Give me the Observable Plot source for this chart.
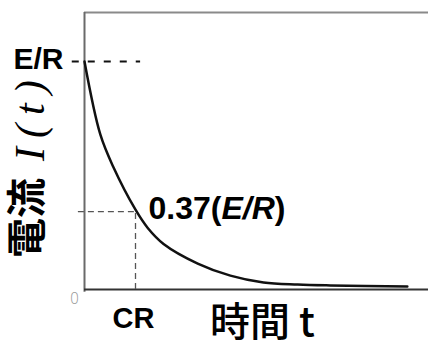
<!DOCTYPE html>
<html>
<head>
<meta charset="utf-8">
<script src="https://cdn.jsdelivr.net/npm/d3@7"></script>
<script src="https://cdn.jsdelivr.net/npm/@observablehq/plot@0.6"></script>
<style>
  html, body { margin: 0; padding: 0; background: #fff; }
  #chart svg { display: block; }
</style>
</head>
<body>
<div id="chart"></div>
<script>
// Values (time in units of CR, current in units of E/R)
const timeValues = [0, 0.31, 0.57, 1.0, 1.24, 1.55, 2.22, 2.86, 3.51, 4.18, 4.82, 6.33];
const currentValues = [1.0, 0.68, 0.535, 0.35, 0.27, 0.20, 0.114, 0.061, 0.031, 0.022, 0.018, 0.013];
const timeDomain = [0, 6.745];
const currentDomain = [0, 1.215];
const timeConstant = [1.0];        // t = CR
const markedLevel = [0.342];       // level of the guide, labelled 0.37(E/R)
const startLevel = [1.0];          // E/R
const erGuideX = [-0.24, 1.1];     // extent of the E/R dashed guide
const levelGuideX = [-0.12];       // left end of 0.37 guide
const labelER = "E/R";
const labelCR = "CR";
const labelZero = "0";
const xLabelText = "時間 t";
const yLabelCJK = "電流";
const yLabelMath = "I(t)";

const curve = timeValues.map((t, i) => ({t, i: currentValues[i]}));
const sans = "Liberation Sans, Arial, Helvetica, sans-serif";
const cjk = "Noto Sans CJK JP, Noto Sans CJK SC, sans-serif";

const chart = Plot.plot({
  width: 428,
  height: 345,
  marginLeft: 84,
  marginRight: 0,
  marginTop: 12,
  marginBottom: 56,
  x: {domain: timeDomain, axis: null},
  y: {domain: currentDomain, axis: null},
  style: {background: "#fff", overflow: "visible"},
  marks: [
    // frame: top, left and bottom lines
    Plot.ruleY([currentDomain[1]], {stroke: "#8a8a8a", strokeWidth: 2}),
    Plot.ruleX([0], {y1: -0.012, y2: currentDomain[1], stroke: "#6a6a6a", strokeWidth: 2}),
    Plot.ruleY([0], {stroke: "#333", strokeWidth: 2}),
    // guides
    Plot.ruleY(startLevel, {x1: erGuideX[0], x2: erGuideX[1], stroke: "#111", strokeWidth: 2, strokeDasharray: "7,9"}),
    Plot.ruleY(markedLevel, {x1: levelGuideX[0], x2: timeConstant[0], stroke: "#555", strokeWidth: 1.3, strokeDasharray: "6,4"}),
    Plot.ruleX(timeConstant, {y1: 0, y2: markedLevel[0], stroke: "#555", strokeWidth: 1.3, strokeDasharray: "6,4"}),
    // curve
    Plot.line(curve, {x: "t", y: "i", curve: "catmull-rom", stroke: "#111", strokeWidth: 2.5}),
    // labels
    Plot.text([labelER], {x: 0, y: startLevel[0], text: d => d, textAnchor: "end", dx: -21, dy: -2,
      fontSize: 30, fontWeight: "bold", fontFamily: sans, fill: "#000"}),
    Plot.text([0], {x: timeConstant[0], y: markedLevel[0], text: () => "0.37(", textAnchor: "start", dx: 13, dy: -3,
      fontSize: 32, fontWeight: "bold", fontFamily: sans, fill: "#000"}),
    Plot.text([labelCR], {x: timeConstant[0], y: 0, text: d => d, dx: -2, dy: 29,
      fontSize: 29, fontWeight: "bold", fontFamily: sans, fill: "#000"}),
    Plot.text([labelZero], {x: 0, y: 0, text: d => d, dx: -10, dy: 10,
      fontSize: 15, fontFamily: "DejaVu Sans, sans-serif", fontWeight: 300, fill: "#999"}),
    Plot.text([xLabelText], {frameAnchor: "bottom", text: d => d, dx: 6, dy: 46,
      fontSize: 40, fontWeight: 500, fontFamily: cjk, fill: "#000"}),
    Plot.text([yLabelCJK], {frameAnchor: "left", text: d => d, rotate: -90, dx: -56, dy: 107,
      fontSize: 40, fontWeight: "bold", fontFamily: cjk, fill: "#000"}),
    Plot.text([yLabelMath], {frameAnchor: "left", text: d => d, rotate: -90, dx: -54, dy: 10,
      fontSize: 42, fontStyle: "italic", fontFamily: "Liberation Serif, DejaVu Serif, serif", fill: "#000"})
  ]
});

// Mixed-style label "0.37(E/R)" and spaced math label I(t)
d3.select(chart).selectAll("text").each(function() {
  const el = d3.select(this);
  const s = el.text();
  if (s === "0.37(") {
    el.text(null);
    el.append("tspan").text("0.37(");
    el.append("tspan").attr("font-style", "italic").text("E/R");
    el.append("tspan").text(")");
  } else if (s === yLabelMath) {
    el.style("letter-spacing", "9px");
  }
});

document.getElementById("chart").appendChild(chart);
</script>
</body>
</html>
